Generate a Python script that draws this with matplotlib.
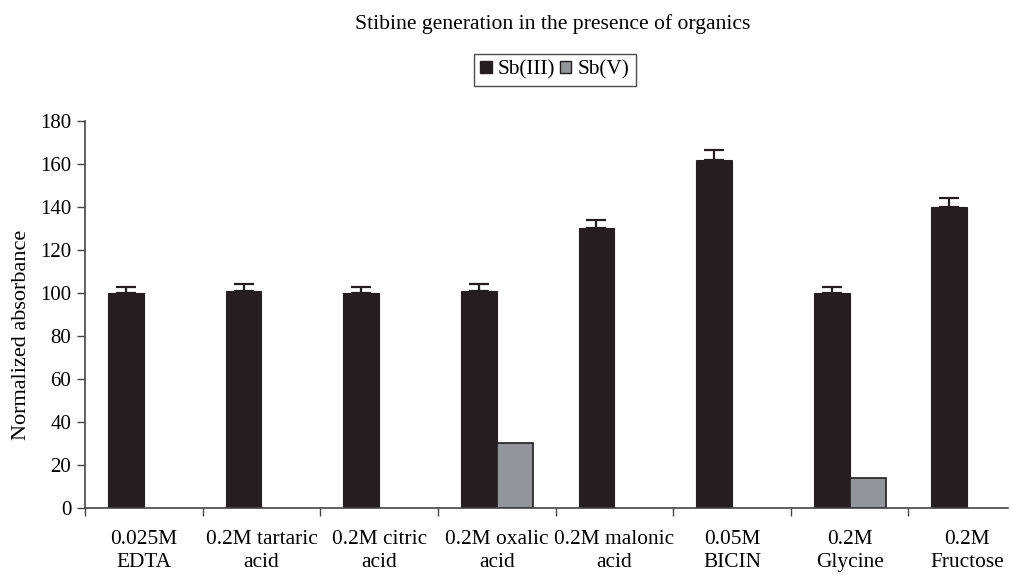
import numpy as np
import matplotlib.pyplot as plt
from matplotlib.patches import Patch

# category labels and series values
CATEGORIES = ["0.025M\nEDTA", "0.2M tartaric\nacid", "0.2M citric\nacid",
              "0.2M oxalic\nacid", "0.2M malonic\nacid", "0.05M\nBICIN",
              "0.2M\nGlycine", "0.2M\nFructose"]
SB3 = [100, 101, 100, 101, 130, 162, 100, 140]
SB3_ERR = [3, 3, 3, 3, 4, 4.5, 3, 4]
SB5 = [0, 0, 0, 30, 0, 0, 14, 0]

plt.rcParams["font.family"] = ["Liberation Serif", "DejaVu Serif"]

fig = plt.figure(figsize=(10.16, 5.77), dpi=100)
ax = fig.add_axes([0.0837, 0.1196, 0.9083, 0.6707])

x = np.arange(len(CATEGORIES))
width = 0.305

ax.bar(x - width / 2, SB3, width, color="#231f20", edgecolor="#231f20",
       linewidth=0.8, zorder=2)
ax.errorbar(x - width / 2, SB3, yerr=[np.zeros(len(SB3)), SB3_ERR],
            fmt="none", ecolor="#231f20", elinewidth=1.6, capsize=7,
            capthick=1.6, zorder=3)

# Sb(V) only shows where it is above zero
sb5 = np.array(SB5, dtype=float)
has_sb5 = sb5 > 0
ax.bar(x[has_sb5] + width / 2, sb5[has_sb5], width, color="#939598",
       edgecolor="#231f20", linewidth=1.2, zorder=2)

ax.set_xlim(-0.5, 7.345)
ax.set_ylim(0, 180)
ax.set_yticks(range(0, 181, 20))

# boundary ticks between categories, labels at category centres
ax.set_xticks(np.arange(-0.5, 7.5, 1.0))
ax.set_xticklabels([])
ax.set_xticks(x, minor=True)
ax.set_xticklabels(CATEGORIES, minor=True, fontsize=15.4, linespacing=1.3)
ax.tick_params(axis="x", which="minor", length=0, pad=16)
ax.tick_params(axis="x", which="major", length=6, width=1, color="#444444",
               direction="out")
ax.tick_params(axis="y", length=6, width=1, color="#444444", labelsize=15,
               direction="out", pad=4)

for side in ["top", "right"]:
    ax.spines[side].set_visible(False)
for side in ["left", "bottom"]:
    ax.spines[side].set_color("#444444")
    ax.spines[side].set_linewidth(1.2)

ax.set_ylabel("Normalized absorbance", fontsize=16)
ax.yaxis.set_label_coords(-0.059, 0.447)

fig.text(0.544, 0.958, "Stibine generation in the presence of organics",
         ha="center", va="center", fontsize=15.6)

handles = [Patch(facecolor="#231f20", edgecolor="#231f20", label="Sb(III)"),
           Patch(facecolor="#939598", edgecolor="#231f20", label="Sb(V)")]
leg = fig.legend(handles=handles, loc="center", bbox_to_anchor=(0.546, 0.879),
                 ncol=2, fontsize=15.3, frameon=True, fancybox=False,
                 handlelength=0.55, handleheight=0.55, handletextpad=0.3,
                 columnspacing=0.2, borderpad=0.3, borderaxespad=0)
leg.get_frame().set_edgecolor("#231f20")
leg.get_frame().set_linewidth(1.0)

fig.savefig("out.png", dpi=100)
